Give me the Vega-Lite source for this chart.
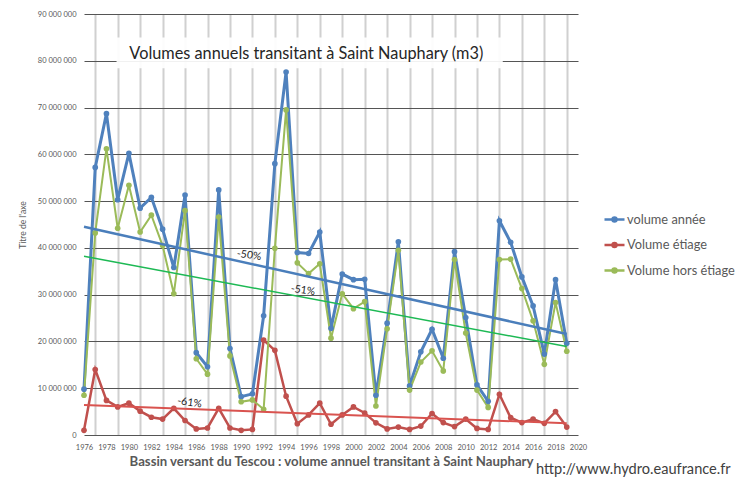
{
  "$schema": "https://vega.github.io/schema/vega-lite/v6.json",
  "autosize": "none",
  "width": 494,
  "height": 421,
  "padding": {"left": 84, "top": 14, "right": 158, "bottom": 49},
  "background": "white",
  "title": {"text": "http://www.hydro.eaufrance.fr", "orient": "bottom", "anchor": "start", "frame": "group", "dx": 452, "offset": -6, "font": "Lato", "fontSize": 14.6, "fontWeight": "normal", "color": "#404040"},
  "datasets": {
    "series": [
      {"year": 1976, "series": "volume année", "value": 9.8}, {"year": 1976, "series": "Volume étiage", "value": 1.0}, {"year": 1976, "series": "Volume hors étiage", "value": 8.5},
      {"year": 1977, "series": "volume année", "value": 57.2}, {"year": 1977, "series": "Volume étiage", "value": 14.0}, {"year": 1977, "series": "Volume hors étiage", "value": 43.2},
      {"year": 1978, "series": "volume année", "value": 68.7}, {"year": 1978, "series": "Volume étiage", "value": 7.4}, {"year": 1978, "series": "Volume hors étiage", "value": 61.2},
      {"year": 1979, "series": "volume année", "value": 50.3}, {"year": 1979, "series": "Volume étiage", "value": 6.0}, {"year": 1979, "series": "Volume hors étiage", "value": 44.2},
      {"year": 1980, "series": "volume année", "value": 60.2}, {"year": 1980, "series": "Volume étiage", "value": 6.8}, {"year": 1980, "series": "Volume hors étiage", "value": 53.4},
      {"year": 1981, "series": "volume année", "value": 48.5}, {"year": 1981, "series": "Volume étiage", "value": 5.1}, {"year": 1981, "series": "Volume hors étiage", "value": 43.4},
      {"year": 1982, "series": "volume année", "value": 50.8}, {"year": 1982, "series": "Volume étiage", "value": 3.8}, {"year": 1982, "series": "Volume hors étiage", "value": 47.0},
      {"year": 1983, "series": "volume année", "value": 44.0}, {"year": 1983, "series": "Volume étiage", "value": 3.4}, {"year": 1983, "series": "Volume hors étiage", "value": 40.5},
      {"year": 1984, "series": "volume année", "value": 35.8}, {"year": 1984, "series": "Volume étiage", "value": 5.7}, {"year": 1984, "series": "Volume hors étiage", "value": 30.2},
      {"year": 1985, "series": "volume année", "value": 51.3}, {"year": 1985, "series": "Volume étiage", "value": 3.1}, {"year": 1985, "series": "Volume hors étiage", "value": 48.0},
      {"year": 1986, "series": "volume année", "value": 17.6}, {"year": 1986, "series": "Volume étiage", "value": 1.3}, {"year": 1986, "series": "Volume hors étiage", "value": 16.3},
      {"year": 1987, "series": "volume année", "value": 14.6}, {"year": 1987, "series": "Volume étiage", "value": 1.5}, {"year": 1987, "series": "Volume hors étiage", "value": 13.0},
      {"year": 1988, "series": "volume année", "value": 52.4}, {"year": 1988, "series": "Volume étiage", "value": 5.7}, {"year": 1988, "series": "Volume hors étiage", "value": 46.6},
      {"year": 1989, "series": "volume année", "value": 18.5}, {"year": 1989, "series": "Volume étiage", "value": 1.5}, {"year": 1989, "series": "Volume hors étiage", "value": 16.9},
      {"year": 1990, "series": "volume année", "value": 8.2}, {"year": 1990, "series": "Volume étiage", "value": 1.0}, {"year": 1990, "series": "Volume hors étiage", "value": 7.1},
      {"year": 1991, "series": "volume année", "value": 8.8}, {"year": 1991, "series": "Volume étiage", "value": 1.2}, {"year": 1991, "series": "Volume hors étiage", "value": 7.5},
      {"year": 1992, "series": "volume année", "value": 25.5}, {"year": 1992, "series": "Volume étiage", "value": 20.3}, {"year": 1992, "series": "Volume hors étiage", "value": 5.5},
      {"year": 1993, "series": "volume année", "value": 58.0}, {"year": 1993, "series": "Volume étiage", "value": 18.1}, {"year": 1993, "series": "Volume hors étiage", "value": 39.9},
      {"year": 1994, "series": "volume année", "value": 77.6}, {"year": 1994, "series": "Volume étiage", "value": 8.3}, {"year": 1994, "series": "Volume hors étiage", "value": 69.5},
      {"year": 1995, "series": "volume année", "value": 39.0}, {"year": 1995, "series": "Volume étiage", "value": 2.4}, {"year": 1995, "series": "Volume hors étiage", "value": 36.8},
      {"year": 1996, "series": "volume année", "value": 38.8}, {"year": 1996, "series": "Volume étiage", "value": 4.3}, {"year": 1996, "series": "Volume hors étiage", "value": 34.5},
      {"year": 1997, "series": "volume année", "value": 43.4}, {"year": 1997, "series": "Volume étiage", "value": 6.8}, {"year": 1997, "series": "Volume hors étiage", "value": 36.6},
      {"year": 1998, "series": "volume année", "value": 22.8}, {"year": 1998, "series": "Volume étiage", "value": 2.3}, {"year": 1998, "series": "Volume hors étiage", "value": 20.7},
      {"year": 1999, "series": "volume année", "value": 34.4}, {"year": 1999, "series": "Volume étiage", "value": 4.3}, {"year": 1999, "series": "Volume hors étiage", "value": 30.2},
      {"year": 2000, "series": "volume année", "value": 33.2}, {"year": 2000, "series": "Volume étiage", "value": 6.0}, {"year": 2000, "series": "Volume hors étiage", "value": 27.0},
      {"year": 2001, "series": "volume année", "value": 33.3}, {"year": 2001, "series": "Volume étiage", "value": 4.7}, {"year": 2001, "series": "Volume hors étiage", "value": 28.5},
      {"year": 2002, "series": "volume année", "value": 8.5}, {"year": 2002, "series": "Volume étiage", "value": 2.6}, {"year": 2002, "series": "Volume hors étiage", "value": 6.2},
      {"year": 2003, "series": "volume année", "value": 23.9}, {"year": 2003, "series": "Volume étiage", "value": 1.3}, {"year": 2003, "series": "Volume hors étiage", "value": 22.7},
      {"year": 2004, "series": "volume année", "value": 41.3}, {"year": 2004, "series": "Volume étiage", "value": 1.7}, {"year": 2004, "series": "Volume hors étiage", "value": 39.5},
      {"year": 2005, "series": "volume année", "value": 10.5}, {"year": 2005, "series": "Volume étiage", "value": 1.2}, {"year": 2005, "series": "Volume hors étiage", "value": 9.6},
      {"year": 2006, "series": "volume année", "value": 17.8}, {"year": 2006, "series": "Volume étiage", "value": 1.9}, {"year": 2006, "series": "Volume hors étiage", "value": 15.6},
      {"year": 2007, "series": "volume année", "value": 22.6}, {"year": 2007, "series": "Volume étiage", "value": 4.6}, {"year": 2007, "series": "Volume hors étiage", "value": 18.0},
      {"year": 2008, "series": "volume année", "value": 16.4}, {"year": 2008, "series": "Volume étiage", "value": 2.65}, {"year": 2008, "series": "Volume hors étiage", "value": 13.7},
      {"year": 2009, "series": "volume année", "value": 39.2}, {"year": 2009, "series": "Volume étiage", "value": 1.8}, {"year": 2009, "series": "Volume hors étiage", "value": 37.5},
      {"year": 2010, "series": "volume année", "value": 25.1}, {"year": 2010, "series": "Volume étiage", "value": 3.4}, {"year": 2010, "series": "Volume hors étiage", "value": 21.8},
      {"year": 2011, "series": "volume année", "value": 10.7}, {"year": 2011, "series": "Volume étiage", "value": 1.4}, {"year": 2011, "series": "Volume hors étiage", "value": 9.6},
      {"year": 2012, "series": "volume année", "value": 7.2}, {"year": 2012, "series": "Volume étiage", "value": 1.2}, {"year": 2012, "series": "Volume hors étiage", "value": 5.9},
      {"year": 2013, "series": "volume année", "value": 45.8}, {"year": 2013, "series": "Volume étiage", "value": 8.7}, {"year": 2013, "series": "Volume hors étiage", "value": 37.5},
      {"year": 2014, "series": "volume année", "value": 41.2}, {"year": 2014, "series": "Volume étiage", "value": 3.7}, {"year": 2014, "series": "Volume hors étiage", "value": 37.6},
      {"year": 2015, "series": "volume année", "value": 33.8}, {"year": 2015, "series": "Volume étiage", "value": 2.65}, {"year": 2015, "series": "Volume hors étiage", "value": 31.3},
      {"year": 2016, "series": "volume année", "value": 27.6}, {"year": 2016, "series": "Volume étiage", "value": 3.4}, {"year": 2016, "series": "Volume hors étiage", "value": 24.4},
      {"year": 2017, "series": "volume année", "value": 17.3}, {"year": 2017, "series": "Volume étiage", "value": 2.5}, {"year": 2017, "series": "Volume hors étiage", "value": 15.1},
      {"year": 2018, "series": "volume année", "value": 33.2}, {"year": 2018, "series": "Volume étiage", "value": 5.0}, {"year": 2018, "series": "Volume hors étiage", "value": 28.3},
      {"year": 2019, "series": "volume année", "value": 19.6}, {"year": 2019, "series": "Volume étiage", "value": 1.7}, {"year": 2019, "series": "Volume hors étiage", "value": 17.9}
    ],
    "trends": [
      {"year": 1976, "series": "volume année", "value": 44.5}, {"year": 2019, "series": "volume année", "value": 21.6},
      {"year": 1976, "series": "Volume étiage", "value": 6.4}, {"year": 2019, "series": "Volume étiage", "value": 2.5},
      {"year": 1976, "series": "Volume hors étiage", "value": 38.2}, {"year": 2019, "series": "Volume hors étiage", "value": 18.9}
    ],
    "notes": [
      {"year": 1990.7, "value": 38.4, "label": "-50%"},
      {"year": 1995.5, "value": 30.9, "label": "-51%"},
      {"year": 1985.4, "value": 6.9, "label": "-61%"}
    ],
    "one": [{}]
  },
  "layer": [
    {
      "data": {"name": "series"},
      "mark": {"type": "rule", "opacity": 0},
      "encoding": {
        "x": {"field": "year", "type": "quantitative", "scale": {"domain": [1976, 2020], "nice": false, "zero": false},
          "axis": {"orient": "top", "values": [1977,1979,1981,1983,1985,1987,1989,1991,1993,1995,1997,1999,2001,2003,2005,2007,2009,2011,2013,2015,2017,2019],
            "labels": false, "ticks": false, "domain": false, "title": null, "gridColor": "#d0d0d0", "gridWidth": 2}},
        "y": {"field": "value", "type": "quantitative", "scale": {"domain": [0, 90], "nice": false},
          "axis": {"values": [0,10,20,30,40,50,60,70,80,90],
            "labelExpr": "datum.value == 0 ? '0' : datum.value + ' 000 000'",
            "gridColor": "#555555", "gridWidth": 1, "ticks": false, "domain": false,
            "labelFont": "Lato", "labelFontSize": 7.5, "labelColor": "#595959", "labelPadding": 8,
            "title": "Titre de l'axe", "titleFont": "Lato", "titleFontSize": 8.5, "titleFontWeight": "normal", "titleColor": "#595959", "titlePadding": 10}}
      }
    },
    {
      "data": {"name": "series"},
      "mark": {"type": "rule", "opacity": 0},
      "encoding": {
        "x": {"field": "year", "type": "quantitative",
          "axis": {"orient": "bottom", "values": [1976,1978,1980,1982,1984,1986,1988,1990,1992,1994,1996,1998,2000,2002,2004,2006,2008,2010,2012,2014,2016,2018,2020],
            "format": "d", "labelOverlap": false, "labelFlush": false,
            "gridColor": "#555555", "gridWidth": 1,
            "ticks": false, "domain": false, "labelFont": "Lato", "labelFontSize": 7.5, "labelColor": "#595959", "labelPadding": 8,
            "title": "Bassin versant du Tescou : volume annuel transitant à Saint Nauphary",
            "titleFont": "Lato", "titleFontSize": 13.2, "titleFontWeight": "bold", "titleColor": "#595959", "titlePadding": 5}},
        "y": {"field": "value", "type": "quantitative"}
      }
    },
    {
      "data": {"name": "one"},
      "mark": {"type": "rect", "color": "white", "opacity": 0.92},
      "encoding": {"x": {"datum": 1978.9, "axis": null}, "x2": {"datum": 2013.3}, "y": {"datum": 78.4}, "y2": {"datum": 85.0}}
    },
    {
      "data": {"name": "one"},
      "mark": {"type": "text", "font": "Lato", "fontSize": 16.3, "color": "#262626"},
      "encoding": {"x": {"datum": 1995.8, "axis": null}, "y": {"datum": 81.4}, "text": {"value": "Volumes annuels transitant à Saint Nauphary (m3)"}}
    },
    {
      "data": {"name": "series"},
      "mark": {"type": "line", "point": {"filled": true, "size": 32}},
      "encoding": {
        "x": {"field": "year", "type": "quantitative", "axis": null},
        "y": {"field": "value", "type": "quantitative"},
        "color": {"field": "series", "type": "nominal",
          "scale": {"domain": ["volume année", "Volume étiage", "Volume hors étiage"], "range": ["#4F81BD", "#C0504D", "#9BBB59"]},
          "legend": {"title": null, "orient": "none", "legendX": 519, "legendY": 194, "labelFont": "Lato", "labelFontSize": 12.8, "labelColor": "#595959",
            "symbolType": "M-1,0H1M-0.2,0A0.2,0.2 0 1 1 0.2,0A0.2,0.2 0 1 1 -0.2,0Z", "symbolSize": 400, "symbolStrokeWidth": 2.5, "rowPadding": 6.5, "labelOffset": 1,
            "encode": {"symbols": {"update": {"fill": {"scale": "color", "field": "value"}}}}}},
        "strokeWidth": {"field": "series", "type": "nominal", "scale": {"domain": ["volume année", "Volume étiage", "Volume hors étiage"], "range": [3, 2, 2]}, "legend": null},
        "order": {"field": "year"}
      }
    },
    {
      "data": {"name": "trends"},
      "mark": {"type": "line"},
      "encoding": {
        "x": {"field": "year", "type": "quantitative", "axis": null},
        "y": {"field": "value", "type": "quantitative"},
        "detail": {"field": "series"},
        "stroke": {"field": "series", "type": "nominal", "scale": {"domain": ["volume année", "Volume étiage", "Volume hors étiage"], "range": ["#4A7EBB", "#D9534F", "#1DB954"]}, "legend": null},
        "strokeWidth": {"field": "series", "type": "nominal", "scale": {"domain": ["volume année", "Volume étiage", "Volume hors étiage"], "range": [2.5, 1.5, 1.5]}, "legend": null}
      }
    },
    {
      "data": {"name": "notes"},
      "mark": {"type": "text", "font": "Lato", "fontSize": 10.5, "color": "#262626", "angle": 8},
      "encoding": {
        "x": {"field": "year", "type": "quantitative", "axis": null},
        "y": {"field": "value", "type": "quantitative"},
        "text": {"field": "label"}
      }
    }
  ],
  "resolve": {"axis": {"x": "independent"}, "scale": {"stroke": "independent", "strokeWidth": "independent"}},
  "config": {"view": {"stroke": null}}
}
